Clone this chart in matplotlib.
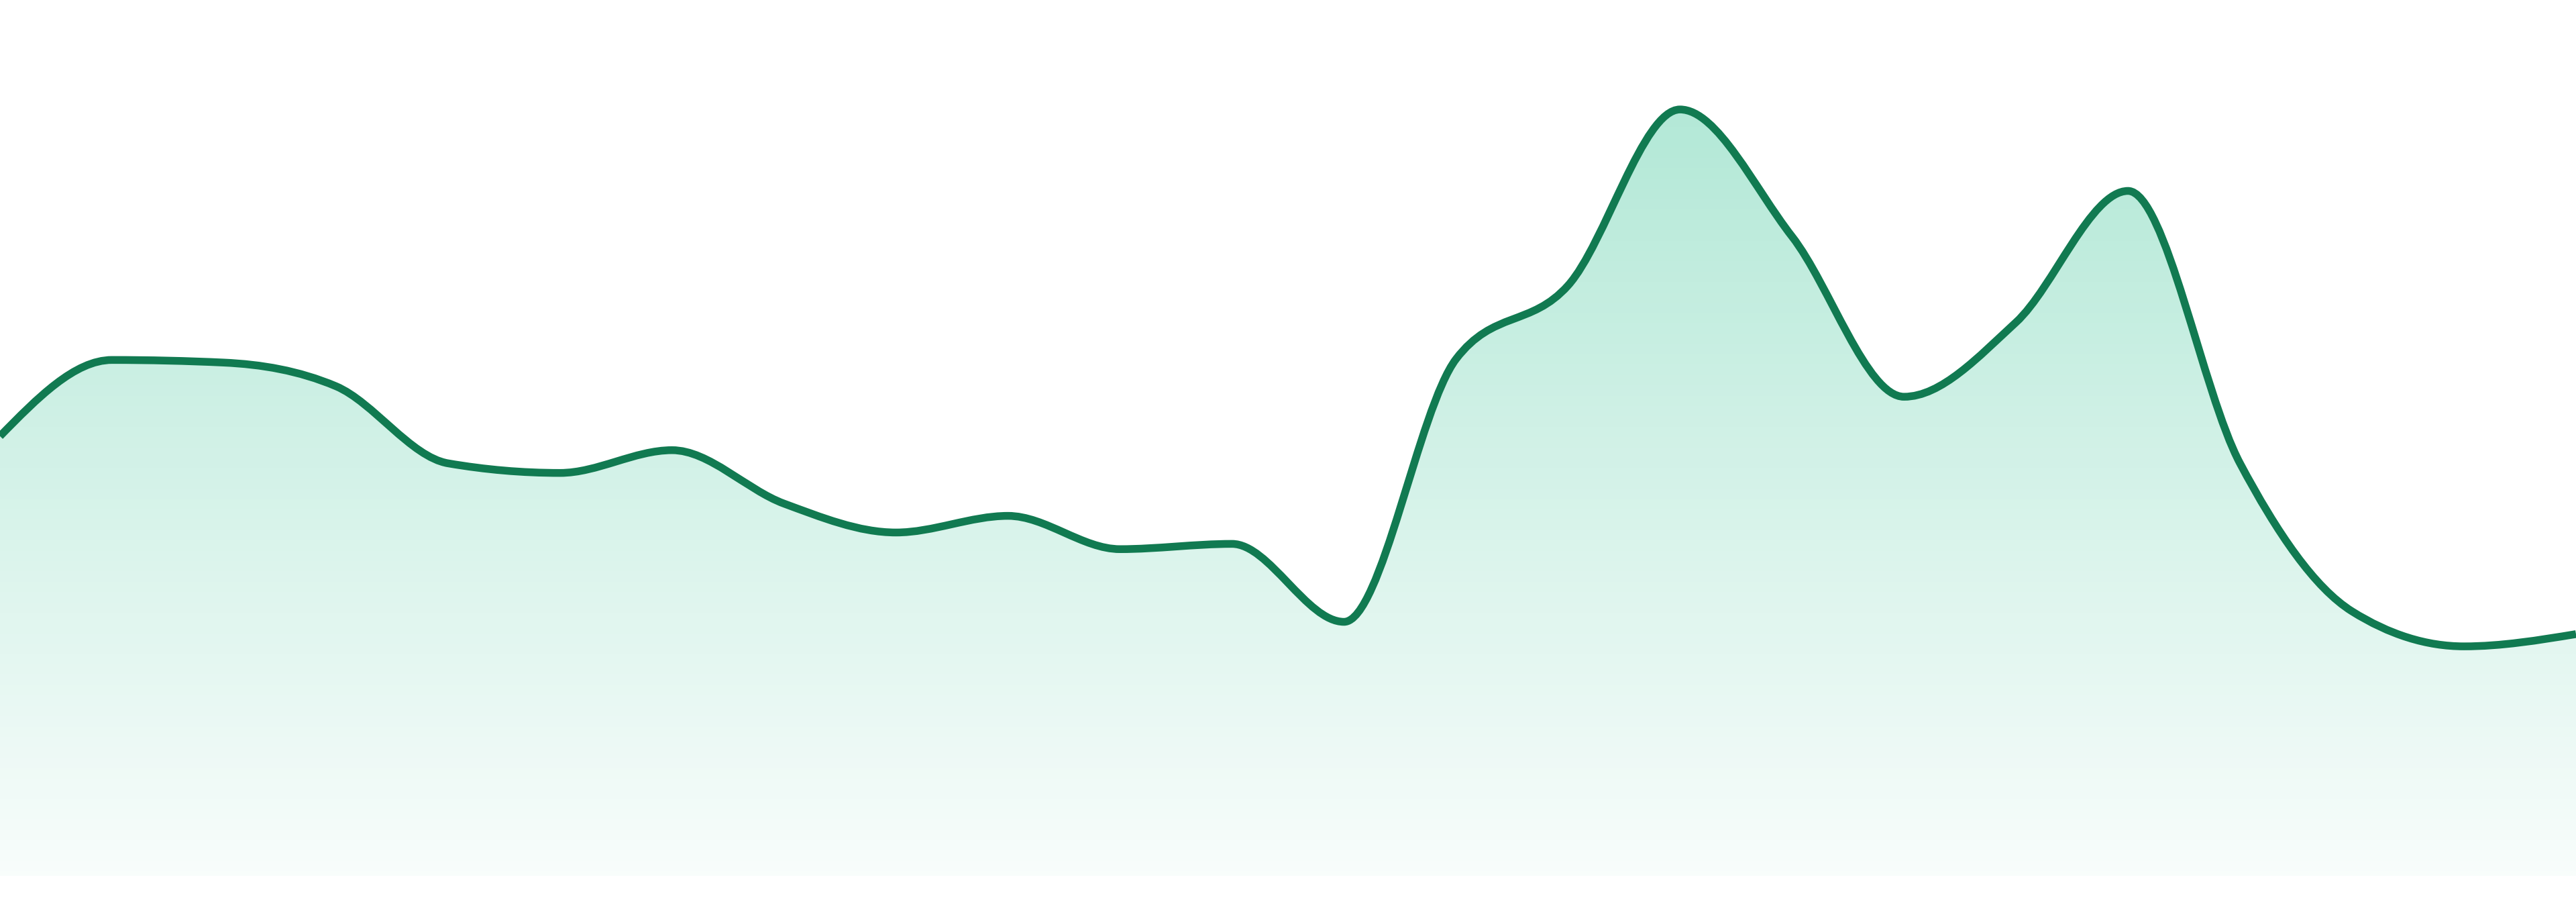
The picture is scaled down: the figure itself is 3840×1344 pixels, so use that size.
import numpy as np
import matplotlib
matplotlib.use("Agg")
from matplotlib import pyplot as plt
from matplotlib.path import Path
from matplotlib.patches import PathPatch


# Daily values (24 evenly spaced points, no axes shown)
days = list(range(1, 25))
values = [50.2, 58.9, 58.6, 55.9, 47.1, 46.0, 48.6, 42.5, 39.2, 41.1, 37.3, 37.9,
          29.0, 59.0, 67.4, 87.5, 73.0, 54.7, 63.2, 78.2, 47.1, 30.2, 26.2, 27.6]

line_color = "#117a51"
fill_rgb = (0.063, 0.725, 0.506)   # emerald, faded by alpha


def monotone_slopes(x, y):
    # same tangents as d3.curveMonotoneX
    n = len(x)
    h = np.diff(x)
    s = np.diff(y) / h
    t = np.zeros(n)
    for i in range(1, n - 1):
        p = (s[i - 1] * h[i] + s[i] * h[i - 1]) / (h[i - 1] + h[i])
        t[i] = (np.sign(s[i - 1]) + np.sign(s[i])) * min(abs(s[i - 1]), abs(s[i]), 0.5 * abs(p))
    t[0] = (3 * s[0] - t[1]) / 2
    t[-1] = (3 * s[-1] - t[-2]) / 2
    return t


def curve_path(x, y, close_to=None):
    t = monotone_slopes(x, y)
    verts = [(x[0], y[0])]
    codes = [Path.MOVETO]
    for i in range(len(x) - 1):
        dx = (x[i + 1] - x[i]) / 3
        verts += [(x[i] + dx, y[i] + dx * t[i]),
                  (x[i + 1] - dx, y[i + 1] - dx * t[i + 1]),
                  (x[i + 1], y[i + 1])]
        codes += [Path.CURVE4] * 3
    if close_to is not None:
        verts += [(x[-1], close_to), (x[0], close_to), (x[0], y[0])]
        codes += [Path.LINETO, Path.LINETO, Path.CLOSEPOLY]
    return Path(verts, codes)


x = np.arange(len(days), dtype=float)
y = np.array(values)

fig = plt.figure(figsize=(38.4, 13.44), dpi=100)
ax = fig.add_axes([0, 39 / 1344, 1, 1305 / 1344])
ax.set_xlim(x[0], x[-1])
ax.set_ylim(0, 100)
ax.axis("off")

# gradient area under the curve
area = PathPatch(curve_path(x, y, close_to=0), facecolor="none", edgecolor="none")
ax.add_patch(area)
top = y.max()
rows = np.linspace(1, 0, 400)
grad = np.zeros((400, 1, 4))
grad[..., 0], grad[..., 1], grad[..., 2] = fill_rgb
grad[:, 0, 3] = 0.03 + 0.29 * rows
img = ax.imshow(grad, extent=(x[0], x[-1], 0, top), aspect="auto",
                interpolation="bilinear", zorder=1)
img.set_clip_path(area)

# line on top
ax.add_patch(PathPatch(curve_path(x, y), facecolor="none", edgecolor=line_color,
                       linewidth=8.3, capstyle="butt", joinstyle="round", zorder=3))

fig.savefig("out.png", dpi=100, facecolor="white")
